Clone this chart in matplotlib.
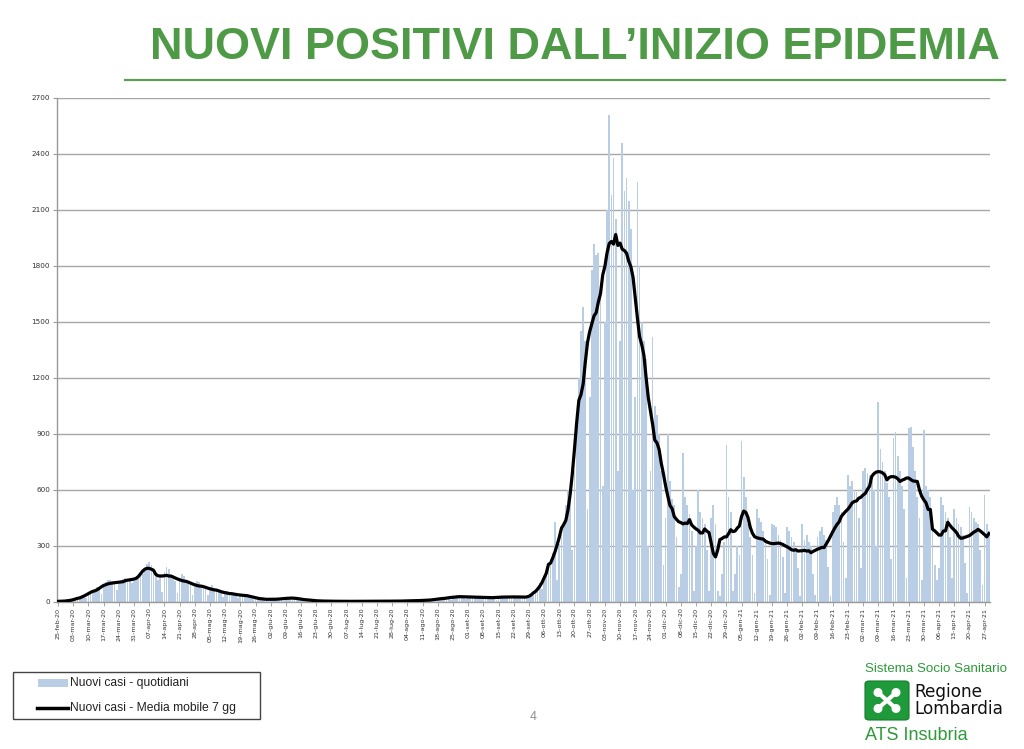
import numpy as np
import pandas as pd
import matplotlib
matplotlib.use("Agg")
import matplotlib.pyplot as plt
from matplotlib.lines import Line2D
from matplotlib.patches import FancyBboxPatch, Rectangle, Ellipse

# ---------------- data ----------------
nuovi_casi = [
    2, 3, 4, 5, 6, 8, 7,
    10, 14, 18, 24, 30, 36, 22,
    45, 52, 60, 70, 78, 72, 43,
    85, 105, 118, 120, 110, 100, 62,
    95, 120, 125, 130, 120, 110, 100,
    115, 130, 140, 145, 150, 175, 205,
    215, 200, 175, 140, 120, 135, 55,
    160, 190, 175, 150, 135, 110, 50,
    130, 150, 140, 120, 105, 90, 40,
    100, 115, 105, 90, 80, 70, 35,
    80, 90, 75, 65, 60, 50, 25,
    55, 60, 52, 48, 42, 35, 20,
    40, 45, 40, 38, 33, 28, 15,
    22, 25, 20, 18, 15, 12, 6,
    12, 18, 20, 18, 16, 14, 8,
    20, 24, 28, 25, 22, 18, 10,
    15, 16, 14, 12, 10, 8, 5,
    6, 7, 6, 5, 5, 4, 3,
    4, 5, 5, 4, 4, 3, 2,
    4, 5, 4, 4, 3, 3, 2,
    4, 5, 5, 4, 4, 3, 2,
    5, 5, 6, 5, 4, 4, 2,
    5, 6, 6, 5, 5, 4, 3,
    6, 8, 8, 7, 6, 5, 3,
    8, 12, 14, 12, 10, 9, 5,
    16, 22, 25, 24, 20, 18, 10,
    28, 34, 36, 32, 30, 25, 15,
    26, 30, 32, 30, 28, 24, 14,
    22, 27, 28, 26, 24, 20, 12,
    26, 32, 32, 30, 28, 24, 14,
    28, 32, 34, 30, 28, 26, 14,
    22, 30, 38, 55, 80, 100, 70,
    110, 140, 170, 230, 260, 430, 120,
    310, 360, 430, 520, 600, 560, 280,
    700, 950, 1200, 1450, 1580, 1400, 500,
    1100, 1780, 1920, 1860, 1870, 1700, 620,
    1500, 2100, 2610, 2180, 2380, 2050, 700,
    1400, 2460, 2200, 2270, 2150, 2000, 600,
    1100, 2250, 1800, 1500, 1400, 1300, 300,
    700, 1420, 1050, 1000, 900, 700, 200,
    450, 900, 650, 550, 520, 350, 80,
    150, 800, 560, 520, 470, 380, 60,
    300, 600, 480, 450, 420, 280, 60,
    450, 520, 420, 60, 30, 150, 320,
    840, 560, 480, 60, 150, 300, 250,
    860, 670, 560, 420, 350, 250, 50,
    500, 450, 430, 380, 330, 230, 40,
    420, 410, 400, 360, 330, 240, 50,
    400, 380, 350, 320, 280, 180, 30,
    420, 330, 360, 320, 300, 150, 40,
    350, 380, 400, 360, 330, 190, 30,
    480, 520, 560, 520, 480, 320, 130,
    680, 620, 650, 600, 590, 450, 180,
    700, 720, 690, 680, 650, 600, 300,
    1070, 820, 750, 700, 640, 560, 230,
    880, 910, 780, 700, 620, 500, 130,
    930, 940, 830, 700, 560, 450, 120,
    920, 620, 600, 560, 450, 200, 120,
    180, 560, 520, 480, 450, 350, 130,
    500, 450, 420, 400, 360, 210, 50,
    510, 480, 450, 430, 420, 280, 90,
    575, 420, 380,
]

tick_labels = [
    "25-feb-20", "03-mar-20", "10-mar-20", "17-mar-20", "24-mar-20", "31-mar-20",
    "07-apr-20", "14-apr-20", "21-apr-20", "28-apr-20", "05-mag-20", "12-mag-20",
    "19-mag-20", "26-mag-20", "02-giu-20", "09-giu-20", "16-giu-20", "23-giu-20",
    "30-giu-20", "07-lug-20", "14-lug-20", "21-lug-20", "28-lug-20", "04-ago-20",
    "11-ago-20", "18-ago-20", "25-ago-20", "01-set-20", "08-set-20", "15-set-20",
    "22-set-20", "29-set-20", "06-ott-20", "13-ott-20", "20-ott-20", "27-ott-20",
    "03-nov-20", "10-nov-20", "17-nov-20", "24-nov-20", "01-dic-20", "08-dic-20",
    "15-dic-20", "22-dic-20", "29-dic-20", "05-gen-21", "12-gen-21", "19-gen-21",
    "26-gen-21", "02-feb-21", "09-feb-21", "16-feb-21", "23-feb-21", "02-mar-21",
    "09-mar-21", "16-mar-21", "23-mar-21", "30-mar-21", "06-apr-21", "13-apr-21",
    "20-apr-21", "27-apr-21",
]

y_ticks = [0, 300, 600, 900, 1200, 1500, 1800, 2100, 2400, 2700]

legend_labels = ["Nuovi casi - quotidiani", "Nuovi casi - Media mobile 7 gg"]
title = "NUOVI POSITIVI DALL\u2019INIZIO EPIDEMIA"

# ---------------- figure ----------------
W, H = 1024, 749
fig = plt.figure(figsize=(W / 100, H / 100), dpi=100)
fig.patch.set_facecolor("white")

def fx(px):
    return px / W

def fy(py):
    return 1 - py / H

ax = fig.add_axes([fx(57), fy(602), fx(990) - fx(57), fy(98) - fy(602)])

days = np.arange(len(nuovi_casi))
vals = np.array(nuovi_casi, dtype=float)
media = pd.Series(vals).rolling(7, center=True, min_periods=1).mean()

ax.bar(days, vals, width=0.8, color="#b9cde5", linewidth=0, zorder=2)
ax.plot(days, media, color="black", lw=2.3, zorder=3, solid_joinstyle="round")

ax.set_xlim(-0.5, len(nuovi_casi) - 0.5)
ax.set_ylim(0, 2700)
ax.set_yticks(y_ticks)
ax.set_yticklabels([str(v) for v in y_ticks], fontsize=5.2, color="#333333")
ax.set_xticks(np.arange(len(tick_labels)) * 7)
ax.set_xticklabels(tick_labels, rotation=90, fontsize=4.6, color="#333333")
ax.tick_params(axis="y", length=3, width=0.8, color="#999999", pad=2)
ax.tick_params(axis="x", length=3, width=0.6, color="#999999", pad=1)
ax.yaxis.grid(True, color="#a6a6a6", lw=1.0, zorder=1)
ax.set_axisbelow(True)
for s in ["top", "right"]:
    ax.spines[s].set_visible(False)
ax.spines["left"].set_color("#999999")
ax.spines["left"].set_linewidth(1.0)
ax.spines["bottom"].set_color("#999999")
ax.spines["bottom"].set_linewidth(1.0)

# ---------------- title ----------------
fig.text(fx(1000), fy(59), title, ha="right", va="baseline",
         fontsize=32.4, fontweight="bold", color="#4f9a47",
         family=["Liberation Sans", "DejaVu Sans"])
fig.add_artist(Line2D([fx(125), fx(1005)], [fy(80), fy(80)],
                      color="#5a9e55", lw=1.6))

# ---------------- legend ----------------
fig.add_artist(Rectangle((fx(13), fy(719)), fx(260) - fx(13), fy(672) - fy(719),
                         facecolor="white", edgecolor="#444444", lw=1.0))
fig.add_artist(Rectangle((fx(38), fy(687)), fx(68) - fx(38), fy(679) - fy(687),
                         facecolor="#b9cde5", edgecolor="none"))
fig.text(fx(70), fy(683), legend_labels[0], ha="left", va="center",
         fontsize=8.7, color="#222222",
         family=["Liberation Sans", "DejaVu Sans"])
fig.add_artist(Line2D([fx(37), fx(68)], [fy(708), fy(708)], color="black", lw=2.5))
fig.text(fx(70), fy(708), legend_labels[1], ha="left", va="center",
         fontsize=8.7, color="#222222",
         family=["Liberation Sans", "DejaVu Sans"])

# page number
fig.text(fx(533), fy(717), "4", ha="center", va="center", fontsize=9,
         color="#8c8c8c", family=["Liberation Sans", "DejaVu Sans"])

# ---------------- logo ----------------
fig.text(fx(865), fy(669), "Sistema Socio Sanitario", ha="left", va="center",
         fontsize=9.6, color="#2e9a3a",
         family=["Liberation Sans", "DejaVu Sans"])
fig.add_artist(FancyBboxPatch((fx(865), fy(720)), fx(909) - fx(865), fy(681) - fy(720),
                              boxstyle="round,pad=0.0,rounding_size=0.004",
                              facecolor="#1f9a3a", edgecolor="#137a2a", lw=0.8))
cx, cy = 887, 700.5
for dx, dy in [(-9, -8), (9, -8), (-9, 8), (9, 8)]:
    fig.add_artist(Ellipse((fx(cx + dx), fy(cy + dy)), fx(9), 9 / H,
                           facecolor="white", edgecolor="none"))
for sgn in (1, -1):
    fig.add_artist(Line2D([fx(cx - 9), fx(cx + 9)], [fy(cy - 8 * sgn), fy(cy + 8 * sgn)],
                          color="white", lw=3))
fig.text(fx(914), fy(700.5), "Regione\nLombardia", ha="left", va="center",
         fontsize=12.2, linespacing=0.95, color="#111111", family=["DejaVu Sans"])
fig.text(fx(865), fy(735), "ATS Insubria", ha="left", va="center", fontsize=13,
         color="#2e9a3a",
         family=["Liberation Sans Narrow", "Liberation Sans", "DejaVu Sans"])

fig.savefig("out.png", dpi=100, facecolor="white")
